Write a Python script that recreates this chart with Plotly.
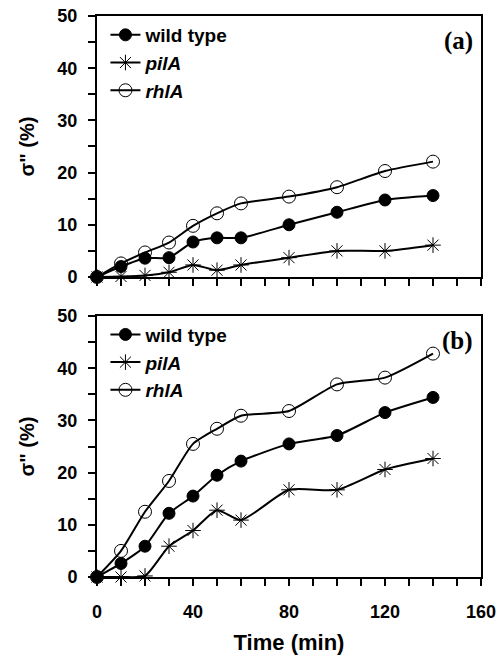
import plotly.graph_objects as go

time_min = [0, 10, 20, 30, 40, 50, 60, 80, 100, 120, 140]

a_wild = [0, 2.0, 3.6, 3.7, 6.7, 7.5, 7.5, 10.0, 12.4, 14.75, 15.6]
a_pila = [0, 0.1, 0.3, 0.9, 2.3, 1.3, 2.3, 3.7, 5.0, 5.0, 6.1]
a_rhla = [0, 2.6, 4.7, 6.6, 9.8, 12.2, 14.1, 15.4, 17.2, 20.3, 22.1]

b_wild = [0, 2.6, 5.9, 12.2, 15.5, 19.5, 22.2, 25.5, 27.1, 31.5, 34.4]
b_pila = [0, 0.0, 0.2, 5.9, 8.9, 12.8, 10.9, 16.7, 16.7, 20.6, 22.7]
b_rhla = [0, 5.0, 12.5, 18.4, 25.5, 28.4, 30.9, 31.8, 36.9, 38.2, 42.8]

series_names = ["<b>wild type</b>", "<b><i>pilA</i></b>", "<b><i>rhlA</i></b>"]
panel_labels = ["<b>(a)</b>", "<b>(b)</b>"]
x_ticks = [0, 40, 80, 120, 160]
y_ticks = [0, 10, 20, 30, 40, 50]

marker_styles = [
    dict(symbol="circle", size=12, color="black", line=dict(color="black", width=1)),
    dict(symbol="asterisk-open", size=13, color="black", line=dict(color="black", width=1)),
    dict(symbol="circle-open", size=13, color="black", line=dict(color="black", width=1)),
]

fig = go.Figure()
panels = [([a_wild, a_pila, a_rhla], "x", "y", "legend"),
          ([b_wild, b_pila, b_rhla], "x2", "y2", "legend2")]
for data, xa, ya, lg in panels:
    for i, (vals, name) in enumerate(zip(data, series_names)):
        fig.add_trace(go.Scatter(
            x=time_min, y=vals, name=name, mode="lines+markers",
            line=dict(color="black", width=2, shape="spline", smoothing=0.6),
            marker=marker_styles[i], xaxis=xa, yaxis=ya, legend=lg,
            cliponaxis=False,
        ))

font_main = "Liberation Sans, Arial, sans-serif"
axis_common = dict(
    showline=True, linecolor="black", linewidth=2, mirror=True,
    ticks="outside", ticklen=7, tickwidth=1.5, tickcolor="black",
    showgrid=False, zeroline=False, ticklabeloverflow="allow", automargin=False,
    tickfont=dict(family=font_main, size=18, color="black", weight="bold"),
)
xaxis_common = dict(axis_common, range=[0, 160], tickvals=x_ticks, ticklabelstandoff=10,
                    minor=dict(dtick=10, ticks="outside", ticklen=7, tickwidth=1.5, tickcolor="black"))
yaxis_common = dict(axis_common, range=[0, 50], tickvals=y_ticks, ticklabelstandoff=7,
                    minor=dict(dtick=5, ticks="outside", ticklen=7, tickwidth=1.5, tickcolor="black"))

ytitle = dict(text="<b>σ\" (%)</b>", font=dict(family=font_main, size=20, color="black"), standoff=17)

legend_common = dict(
    font=dict(family=font_main, size=19, color="black"),
    bgcolor="rgba(0,0,0,0)", traceorder="normal",
    itemwidth=30, xanchor="left", yanchor="top", x=0.022,
)

# plot area: left 97, right 481, top 16, bottom 577 in a 504x656 page
fig.update_layout(
    width=504, height=656,
    margin=dict(l=97, r=23, t=16, b=79, autoexpand=False),
    paper_bgcolor="white", plot_bgcolor="white",
    xaxis=dict(xaxis_common, domain=[0, 1], anchor="y", showticklabels=False),
    yaxis=dict(yaxis_common, domain=[0.5348, 1], anchor="x", title=ytitle),
    xaxis2=dict(xaxis_common, domain=[0, 1], anchor="y2",
                title=dict(text="<b>Time (min)</b>", font=dict(family=font_main, size=22, color="black"), standoff=14)),
    yaxis2=dict(yaxis_common, domain=[0, 0.4652], anchor="x2", title=ytitle),
    legend=dict(legend_common, y=1.0),
    legend2=dict(legend_common, y=0.466),
    showlegend=True,
)

for lbl, xr, yr in zip(panel_labels, ["x domain", "x2 domain"], ["y domain", "y2 domain"]):
    fig.add_annotation(text=lbl, xref=xr, yref=yr, x=0.985, y=0.965, xanchor="right", yanchor="top",
                       showarrow=False, font=dict(family="Liberation Serif, Times New Roman, serif", size=25, color="black"))

fig.write_html("out.html", config={"displayModeBar": False},
               post_script="document.body.style.margin='0px';")
